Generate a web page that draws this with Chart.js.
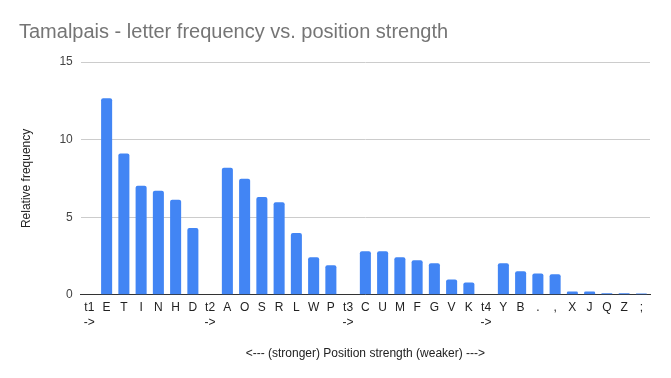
<!DOCTYPE html>
<html>
<head>
<meta charset="utf-8">
<script src="https://cdn.jsdelivr.net/npm/chart.js@4"></script>
<style>
  html, body { margin: 0; padding: 0; background: #fff; }
  #wrap { width: 671px; height: 378px; }
</style>
</head>
<body>
<div id="wrap"><canvas id="chart" width="671" height="378"></canvas></div>
<script>
// Letters grouped by position strength, with the tier markers in between
const categories = [
  ['t1', '->'], 'E', 'T', 'I', 'N', 'H', 'D',
  ['t2', '->'], 'A', 'O', 'S', 'R', 'L', 'W', 'P',
  ['t3', '->'], 'C', 'U', 'M', 'F', 'G', 'V', 'K',
  ['t4', '->'], 'Y', 'B', '.', ',', 'X', 'J', 'Q', 'Z', ';'
];
const frequency = [
  0, 12.66, 9.11, 7.03, 6.71, 6.12, 4.30,
  0, 8.18, 7.47, 6.30, 5.97, 3.98, 2.42, 1.90,
  0, 2.81, 2.81, 2.42, 2.23, 2.03, 0.99, 0.80,
  0, 2.03, 1.51, 1.38, 1.32, 0.21, 0.21, 0.10, 0.10, 0.08
];
const yTicks = [0, 5, 10, 15];

const font = "Arial, 'Liberation Sans', sans-serif";

new Chart(document.getElementById('chart'), {
    type: 'bar',
    data: {
        labels: categories,
        datasets: [{
            label: 'Relative frequency',
            data: frequency,
            backgroundColor: '#4285f4',
            borderRadius: 2,
            borderSkipped: 'bottom',
            categoryPercentage: 1,
            barPercentage: 0.64
        }]
    },
    options: {
        responsive: false,
        animation: false,
        layout: { padding: { left: 19, right: 21, top: 0, bottom: 13 } },
        plugins: {
            legend: { display: false },
            tooltip: { enabled: false },
            title: {
                display: true,
                text: 'Tamalpais - letter frequency vs. position strength',
                align: 'start',
                color: '#757575',
                font: { family: font, size: 20, weight: 'normal' },
                padding: { top: 20, bottom: 18 }
            }
        },
        scales: {
            x: {
                grid: { display: false, drawTicks: false },
                border: { color: '#333', width: 1 },
                ticks: {
                    color: '#222',
                    font: { family: font, size: 12 },
                    maxRotation: 0,
                    autoSkip: false,
                    padding: 6
                },
                title: {
                    display: true,
                    text: '<--- (stronger) Position strength (weaker) --->',
                    color: '#222',
                    font: { family: font, size: 12 },
                    padding: { top: 11 }
                }
            },
            y: {
                min: 0,
                max: 15,
                afterBuildTicks: axis => { axis.ticks = yTicks.map(v => ({ value: v })); },
                grid: { color: '#cccccc', drawTicks: false },
                border: { display: false },
                ticks: {
                    color: '#444',
                    font: { family: font, size: 12 },
                    padding: 8
                },
                title: {
                    display: true,
                    text: 'Relative frequency',
                    color: '#222',
                    font: { family: font, size: 12 },
                    padding: { top: 0, bottom: 18 }
                }
            }
        }
    }
});
</script>
</body>
</html>
